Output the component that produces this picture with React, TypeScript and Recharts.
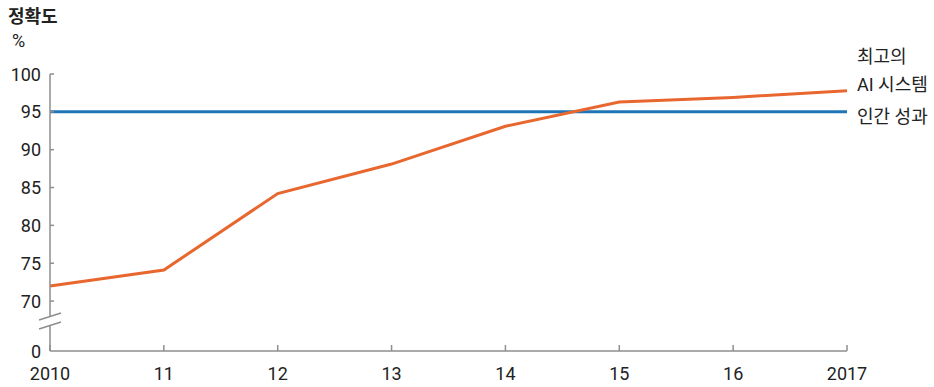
import { LineChart, Line, XAxis, YAxis } from "recharts";

const years = [2010, 2011, 2012, 2013, 2014, 2015, 2016, 2017];
const aiAccuracy = [72.0, 74.1, 84.2, 88.1, 93.1, 96.3, 96.9, 97.8];
const humanAccuracy = [95, 95, 95, 95, 95, 95, 95, 95];

// the axis is broken between 0 and 70: 0 sits this far down the scale
const ZERO_POS = 63.4;
const yTicks = [ZERO_POS, 70, 75, 80, 85, 90, 95, 100];
const aiLabel = ["최고의", "AI 시스템"];
const humanLabel = "인간 성과";

const AI_COLOR = "#e8672f";
const HUMAN_COLOR = "#1f74b5";
const AXIS_COLOR = "#8e8e8e";
const FONT = "Roboto, 'Noto Sans CJK KR', sans-serif";

const chartData = years.map((year, i) => ({
	year,
	ai: aiAccuracy[i],
	human: humanAccuracy[i],
}));

const YTick = ({ x, y, payload }: any) => {
	const isZero = payload.value === ZERO_POS;
	return (
		<g>
			{!isZero && <line x1={x} y1={y} x2={x + 4} y2={y} stroke={AXIS_COLOR} strokeWidth={1.5} />}
			<text x={x - 9} y={y} textAnchor="end" dominantBaseline="central" fontSize={18} fill="#222" fontFamily={FONT}>
				{isZero ? "0" : payload.value}
			</text>
			{isZero && (
				<g>
					<polygon points={`${x - 11},${y - 31} ${x + 11},${y - 38} ${x + 11},${y - 29} ${x - 11},${y - 22}`} fill="#fff" />
					<line x1={x - 11} y1={y - 31} x2={x + 11} y2={y - 38} stroke={AXIS_COLOR} strokeWidth={1.5} />
					<line x1={x - 11} y1={y - 22} x2={x + 11} y2={y - 29} stroke={AXIS_COLOR} strokeWidth={1.5} />
				</g>
			)}
		</g>
	);
};

const XTick = ({ x, y, payload }: any) => {
	const v = payload.value;
	const label = v === 2010 || v === 2017 ? String(v) : String(v).slice(2);
	return (
		<g>
			<line x1={x} y1={y} x2={x} y2={y - 6} stroke={AXIS_COLOR} strokeWidth={1.5} />
			<text x={x} y={y + 22} textAnchor="middle" dominantBaseline="central" fontSize={18} fill="#222" fontFamily={FONT}>
				{label}
			</text>
		</g>
	);
};

const lastIndex = years.length - 1;

const aiEndLabel = (props: any) => {
	if (props.index !== lastIndex) return null;
	return (
		<g key="ai-label">
			<text x={props.x + 10} y={props.y - 34} dominantBaseline="central" fontSize={18} fill="#222" fontFamily={FONT}>
				{aiLabel[0]}
			</text>
			<text x={props.x + 10} y={props.y - 6} dominantBaseline="central" fontSize={18} fill="#222" fontFamily={FONT}>
				{aiLabel[1]}
			</text>
		</g>
	);
};

const humanEndLabel = (props: any) => {
	if (props.index !== lastIndex) return null;
	return (
		<text key="human-label" x={props.x + 10} y={props.y + 5} dominantBaseline="central" fontSize={18} fill="#222" fontFamily={FONT}>
			{humanLabel}
		</text>
	);
};

export default function App() {
	return (
		<div style={{ position: "absolute", left: 0, top: 0, width: 934, height: 387, background: "#fff", fontFamily: FONT }}>
			<div style={{ position: "absolute", left: 8, top: 2, fontSize: 18, fontWeight: 700, color: "#222" }}>정확도</div>
			<div style={{ position: "absolute", left: 12, top: 30, fontSize: 18, color: "#222" }}>%</div>
			<LineChart width={934} height={387} data={chartData} margin={{ top: 74, right: 87, bottom: 0, left: 0 }}>
				<XAxis
					dataKey="year"
					type="number"
					domain={[2010, 2017]}
					ticks={years}
					height={36}
					tickSize={0}
					tickMargin={0}
					tick={<XTick />}
					stroke={AXIS_COLOR}
					strokeWidth={1.5}
				/>
				<YAxis
					type="number"
					domain={[ZERO_POS, 100]}
					ticks={yTicks}
					width={50}
					tickSize={0}
					tickMargin={0}
					tick={<YTick />}
					stroke={AXIS_COLOR}
					strokeWidth={1.5}
					allowDataOverflow
				/>
				<Line
					type="linear"
					dataKey="human"
					stroke={HUMAN_COLOR}
					strokeWidth={3}
					dot={false}
					label={humanEndLabel}
					isAnimationActive={false}
				/>
				<Line
					type="linear"
					dataKey="ai"
					stroke={AI_COLOR}
					strokeWidth={3}
					dot={false}
					label={aiEndLabel}
					isAnimationActive={false}
				/>
			</LineChart>
		</div>
	);
}
